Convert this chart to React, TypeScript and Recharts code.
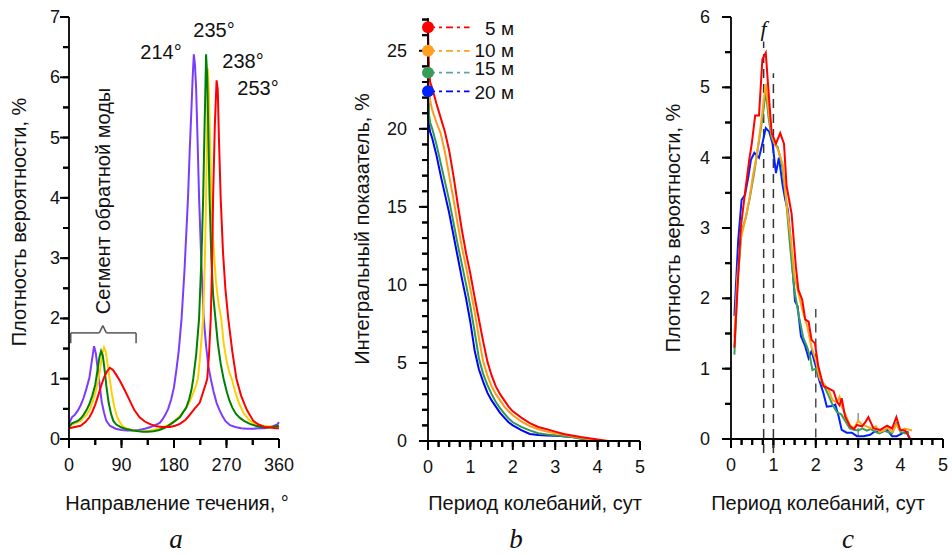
import React from 'react'
import { LineChart, Line, XAxis, YAxis, ReferenceLine, ReferenceDot } from 'recharts'

const FONT = "'Liberation Sans', Arial, sans-serif"

// panel a: direction of current, deg -> probability density, %
const dir214 = [[0,0.25],[5,0.36],[10,0.4],[15,0.47],[20,0.56],[25,0.68],[30,0.84],[35,1.02],[40,1.35],[43,1.54],[46,1.42],[50,1.1],[53,0.86],[56,0.62],[60,0.44],[64,0.3],[70,0.22],[80,0.17],[90,0.15],[100,0.14],[110,0.14],[120,0.15],[130,0.17],[140,0.2],[150,0.24],[156,0.27],[160,0.32],[165,0.4],[170,0.5],[175,0.65],[180,0.86],[184,1.14],[188,1.45],[193,2.0],[198,2.8],[201,3.4],[204,4.0],[207,4.8],[210,5.5],[212,6.0],[214,6.38],[216,6.2],[218,5.8],[220,5.1],[223,4.0],[227,2.9],[231,2.0],[235,1.55],[239,1.2],[243,1.0],[248,0.78],[253,0.6],[258,0.48],[263,0.38],[268,0.3],[276,0.23],[285,0.2],[295,0.18],[305,0.17],[315,0.17],[325,0.18],[335,0.18],[345,0.2],[352,0.22],[357,0.24],[360,0.28]]
const dir235 = [[0,0.2],[5,0.26],[10,0.28],[15,0.3],[20,0.34],[25,0.4],[30,0.48],[35,0.58],[40,0.72],[45,0.9],[49,1.15],[52,1.35],[55,1.46],[58,1.38],[61,1.15],[64,0.88],[68,0.6],[72,0.42],[76,0.3],[81,0.24],[90,0.19],[100,0.16],[110,0.14],[120,0.13],[127,0.12],[135,0.12],[145,0.13],[155,0.15],[165,0.19],[175,0.25],[182,0.3],[190,0.36],[196,0.45],[201,0.52],[206,0.66],[210,0.82],[213,1.0],[218,1.4],[223,2.0],[227,3.0],[230,4.0],[232,5.0],[234,5.9],[235,6.38],[237,6.0],[239,5.0],[241,4.0],[244,3.0],[247,2.4],[251,2.0],[255,1.6],[260,1.25],[265,1.0],[270,0.8],[275,0.64],[280,0.52],[286,0.42],[293,0.35],[300,0.3],[310,0.25],[320,0.22],[330,0.2],[340,0.19],[350,0.2],[360,0.22]]
const dir238 = [[0,0.2],[5,0.24],[10,0.26],[15,0.28],[20,0.3],[25,0.35],[30,0.4],[35,0.48],[40,0.6],[45,0.76],[50,0.96],[54,1.2],[57,1.4],[60,1.52],[63,1.45],[66,1.25],[70,0.98],[74,0.72],[78,0.52],[82,0.38],[87,0.28],[93,0.2],[100,0.17],[110,0.14],[120,0.13],[130,0.13],[140,0.14],[150,0.16],[160,0.19],[170,0.23],[180,0.29],[190,0.38],[200,0.5],[207,0.62],[213,0.76],[218,0.9],[221,1.0],[225,1.4],[230,2.0],[233,3.0],[235,4.0],[237,5.3],[238,6.15],[240,5.7],[242,4.8],[244,4.0],[247,3.3],[252,2.6],[257,2.2],[261,2.0],[265,1.6],[270,1.3],[275,1.1],[279,1.0],[285,0.78],[292,0.58],[300,0.42],[310,0.3],[320,0.25],[330,0.22],[340,0.21],[350,0.2],[360,0.2]]
const dir253 = [[0,0.18],[10,0.2],[20,0.22],[28,0.28],[35,0.36],[40,0.45],[45,0.57],[50,0.72],[55,0.88],[60,1.02],[65,1.12],[70,1.18],[75,1.15],[80,1.08],[87,0.97],[95,0.82],[104,0.64],[112,0.48],[121,0.36],[130,0.29],[138,0.25],[150,0.21],[160,0.2],[173,0.2],[182,0.22],[190,0.25],[200,0.32],[207,0.4],[215,0.5],[224,0.6],[230,0.78],[234,0.9],[237,1.0],[240,1.4],[243,2.0],[245,2.8],[247,4.0],[250,5.2],[253,5.95],[255,5.8],[257,5.0],[260,4.0],[264,3.1],[268,2.5],[273,2.0],[280,1.45],[287,1.0],[295,0.72],[305,0.48],[316,0.3],[325,0.24],[335,0.2],[345,0.19],[355,0.18],[360,0.18]]

// panel b: period, days -> integral index, %
const cum5 = [[0,26.5],[0.02,24],[0.05,23],[0.1,22.6],[0.2,21.6],[0.3,20.7],[0.4,19.8],[0.5,18.6],[0.6,17.0],[0.7,15.2],[0.8,13.5],[0.9,12.0],[1.0,10.7],[1.1,9.2],[1.2,7.8],[1.3,6.4],[1.4,5.1],[1.5,4.2],[1.6,3.5],[1.7,3.0],[1.8,2.6],[1.9,2.2],[2.0,1.9],[2.2,1.5],[2.4,1.15],[2.6,0.9],[2.8,0.75],[3.0,0.6],[3.2,0.45],[3.4,0.35],[3.6,0.25],[3.8,0.18],[4.0,0.1],[4.25,0]]
const cum10 = [[0,25],[0.02,22.5],[0.05,21.8],[0.1,21.2],[0.2,20.4],[0.3,19.7],[0.4,18.5],[0.5,17.0],[0.6,15.5],[0.7,13.9],[0.8,12.4],[0.9,11.1],[1.0,9.7],[1.1,8.3],[1.2,6.6],[1.3,5.1],[1.4,4.2],[1.5,3.5],[1.6,3.0],[1.7,2.6],[1.8,2.2],[1.9,1.9],[2.0,1.65],[2.2,1.25],[2.4,0.95],[2.6,0.75],[2.8,0.6],[3.0,0.5],[3.2,0.4],[3.4,0.3],[3.6,0.2],[3.8,0.12],[4.0,0.05],[4.1,0]]
const cum15 = [[0,23.6],[0.02,21],[0.05,20.4],[0.1,20.0],[0.2,19.0],[0.3,17.8],[0.4,16.6],[0.5,15.4],[0.6,14.0],[0.7,12.6],[0.8,11.3],[0.9,10.0],[1.0,8.6],[1.1,7.0],[1.2,5.3],[1.3,4.3],[1.4,3.6],[1.5,3.0],[1.6,2.5],[1.7,2.1],[1.8,1.75],[1.9,1.45],[2.0,1.2],[2.2,0.9],[2.4,0.68],[2.6,0.5],[2.8,0.42],[3.0,0.36],[3.2,0.3],[3.4,0.25],[3.6,0.15],[3.8,0.08],[4.0,0]]
const cum20 = [[0,22.4],[0.02,20.3],[0.05,19.8],[0.1,19.4],[0.2,18.3],[0.3,17.0],[0.4,15.8],[0.5,14.6],[0.6,13.2],[0.7,11.8],[0.8,10.4],[0.9,9.1],[1.0,7.6],[1.1,5.8],[1.2,4.6],[1.3,3.8],[1.4,3.1],[1.5,2.6],[1.6,2.2],[1.7,1.8],[1.8,1.5],[1.9,1.2],[2.0,1.0],[2.2,0.7],[2.4,0.45],[2.6,0.38],[2.8,0.35],[3.0,0.33],[3.2,0.3],[3.4,0.25],[3.6,0.18],[3.8,0.08],[3.9,0]]

// panel c: period, days -> probability density, %
const pdf5 = [[0.08,1.3],[0.15,2.1],[0.23,3.0],[0.33,3.5],[0.43,3.97],[0.49,4.2],[0.57,4.6],[0.66,4.6],[0.74,5.4],[0.82,5.49],[0.9,4.82],[0.96,4.35],[1.06,4.2],[1.16,4.35],[1.25,4.2],[1.31,3.6],[1.43,3.2],[1.53,2.45],[1.59,2.12],[1.68,1.98],[1.75,1.7],[1.83,1.67],[1.9,1.41],[1.98,1.36],[2.06,1.03],[2.18,0.75],[2.3,0.72],[2.42,0.68],[2.5,0.53],[2.56,0.48],[2.61,0.58],[2.69,0.32],[2.81,0.18],[2.9,0.14],[2.97,0.2],[3.09,0.18],[3.17,0.24],[3.24,0.31],[3.36,0.15],[3.52,0.13],[3.68,0.19],[3.8,0.15],[3.9,0.31],[3.99,0.13],[4.11,0.12],[4.23,0]]
const pdf10 = [[0.08,1.45],[0.15,2.3],[0.23,2.85],[0.33,3.1],[0.43,3.4],[0.52,3.75],[0.6,4.0],[0.68,4.35],[0.75,4.7],[0.82,5.05],[0.88,4.7],[0.95,4.35],[1.03,4.2],[1.12,4.1],[1.22,3.9],[1.3,3.4],[1.4,2.9],[1.5,2.3],[1.6,2.05],[1.7,1.8],[1.8,1.6],[1.9,1.3],[2.0,1.12],[2.1,0.85],[2.2,0.78],[2.3,0.7],[2.4,0.55],[2.5,0.52],[2.56,0.6],[2.62,0.45],[2.7,0.35],[2.8,0.2],[2.9,0.15],[3.0,0.26],[3.1,0.2],[3.2,0.18],[3.3,0.15],[3.42,0.18],[3.5,0.1],[3.6,0.12],[3.7,0.16],[3.8,0.1],[3.9,0.2],[4.0,0.12],[4.1,0.15],[4.27,0.12]]
const pdf15 = [[0.08,1.2],[0.15,2.2],[0.25,2.95],[0.35,3.15],[0.45,3.45],[0.55,3.8],[0.65,4.2],[0.75,4.6],[0.82,4.95],[0.88,4.6],[0.95,4.3],[1.02,4.2],[1.1,4.15],[1.2,3.9],[1.3,3.4],[1.4,2.7],[1.5,2.1],[1.6,1.75],[1.7,1.45],[1.8,1.3],[1.87,1.15],[1.92,0.98],[2.0,1.0],[2.1,0.85],[2.2,0.75],[2.3,0.62],[2.4,0.48],[2.5,0.38],[2.6,0.35],[2.7,0.25],[2.8,0.15],[2.9,0.13],[3.0,0.12],[3.1,0.15],[3.2,0.12],[3.3,0.14],[3.4,0.1],[3.5,0.08],[3.6,0.12],[3.7,0.1],[3.8,0.08],[3.9,0.22],[4.0,0.1],[4.1,0.08],[4.2,0.1]]
const pdf20 = [[0.08,1.75],[0.17,2.83],[0.25,3.4],[0.33,3.47],[0.41,3.73],[0.47,3.97],[0.55,4.07],[0.66,4.0],[0.74,4.2],[0.82,4.42],[0.9,4.37],[0.98,4.2],[1.06,3.78],[1.13,4.0],[1.22,3.6],[1.28,3.4],[1.34,3.26],[1.39,2.93],[1.46,2.36],[1.51,1.96],[1.57,1.89],[1.65,1.46],[1.75,1.32],[1.83,1.15],[1.9,1.25],[2.0,1.03],[2.08,0.84],[2.18,0.65],[2.26,0.46],[2.38,0.47],[2.46,0.49],[2.54,0.32],[2.61,0.13],[2.73,0.09],[2.85,0.09],[2.97,0.04],[3.13,0.04],[3.28,0.06],[3.4,0.11],[3.52,0.09],[3.68,0.13],[3.8,0.04],[3.91,0.04],[4.07,0.09],[4.15,0.1],[4.21,0]]

const depthLabels = ['5 м', '10 м', '15 м', '20 м']
const peakLabels = ['214°', '235°', '238°', '253°']

const dirTicksX = [0, 45, 90, 135, 180, 225, 270, 315, 360]
const dirTicksY = [0, 0.5, 1, 1.5, 2, 2.5, 3, 3.5, 4, 4.5, 5, 5.5, 6, 6.5, 7]
const periodTicks = [0, 0.25, 0.5, 0.75, 1, 1.25, 1.5, 1.75, 2, 2.25, 2.5, 2.75, 3, 3.25, 3.5, 3.75, 4, 4.25, 4.5, 4.75, 5]
const cumTicksY = [0, 1, 2, 3, 4, 5, 6, 7, 8, 9, 10, 11, 12, 13, 14, 15, 16, 17, 18, 19, 20, 21, 22, 23, 24, 25, 26, 27]
const pdfTicksY = [0, 0.5, 1, 1.5, 2, 2.5, 3, 3.5, 4, 4.5, 5, 5.5, 6]

const toPts = (arr: number[][]) => arr.map(([x, v]) => ({ x, v }))
const isMult = (v: number, m: number) => Math.abs(v / m - Math.round(v / m)) < 1e-6

const TICK = 6 // built-in tick line length (minor size); majors lengthened below

// labels; x/y arrive TICK px out from the axis line (tickMargin = 0)
function makeYTick(major: number, gap: number) {
  return function YTick(props: any) {
    const { x, y, payload } = props
    const v = payload.value
    if (!isMult(v, major)) return <g />
    return (
      <text x={x + TICK - gap} y={y} textAnchor="end" dominantBaseline="central" fontSize={18} fontFamily={FONT} fill="#111">
        {v}
      </text>
    )
  }
}

function makeXTick(major: number) {
  return function XTick(props: any) {
    const { x, y, payload } = props
    const v = payload.value
    if (!isMult(v, major)) return <g />
    return (
      <text x={x} y={y - TICK + 26} textAnchor="middle" dominantBaseline="central" fontSize={18} fontFamily={FONT} fill="#111">
        {v}
      </text>
    )
  }
}

// outward tick marks drawn through the scales; pxX / pxY = pixels per data unit of the panel
function tickMarks(key: string, xs: number[], xMajor: number, ys: number[], yMajor: number, pxX: number, pxY: number) {
  const out: any[] = []
  xs.forEach((t) => {
    const len = (isMult(t, xMajor) ? 9 : 6) / pxY
    out.push(
      <ReferenceLine key={key + 'x' + t} segment={[{ x: t, y: 0 }, { x: t, y: -len }]} stroke="#000" strokeWidth={2} ifOverflow="visible" />
    )
  })
  ys.forEach((t) => {
    const len = (isMult(t, yMajor) ? 9 : 6) / pxX
    out.push(
      <ReferenceLine key={key + 'y' + t} segment={[{ x: 0, y: t }, { x: -len, y: t }]} stroke="#000" strokeWidth={2} ifOverflow="visible" />
    )
  })
  return out
}

const dirXTick = makeXTick(90)
const dirYTick = makeYTick(1, 9)
const perXTick = makeXTick(1)
const cumYTick = makeYTick(5, 21)
const pdfYTick = makeYTick(1, 21)

const axisLine = { stroke: '#000', strokeWidth: 1.8 }
const tickLine = { stroke: '#000', strokeWidth: 2 }

function Txt({ x, y, rot, size = 20, italic, serif, children }: any) {
  return (
    <div
      style={{
        position: 'absolute',
        left: x,
        top: y,
        transform: `translate(-50%, -50%)${rot ? ' rotate(-90deg)' : ''}`,
        whiteSpace: 'nowrap',
        fontFamily: serif ? "'Liberation Serif', 'Times New Roman', serif" : FONT,
        fontStyle: italic ? 'italic' : 'normal',
        fontSize: size,
        color: '#111',
        lineHeight: 1,
        pointerEvents: 'none',
      }}
    >
      {children}
    </div>
  )
}

// legend text for panel b, right-aligned inside its chart
function LegendText(props: any) {
  const { viewBox, value, dy } = props
  if (!viewBox) return null
  return (
    <text x={184} y={viewBox.y + (dy || 0)} textAnchor="end" dominantBaseline="central" fontSize={19} fontFamily={FONT} fill="#111">
      {value}
    </text>
  )
}

export default function App() {
  const dirSeries = [
    { data: dir214, color: '#7b3cff' },
    { data: dir238, color: '#ffd000' },
    { data: dir235, color: '#008000' },
    { data: dir253, color: '#ff0000' },
  ]
  const cumSeries = [
    { data: cum20, color: '#0000ff', dot: '#0022ff', leg: '#0000ff' },
    { data: cum15, color: '#2e9a4e', dot: '#3a9a5a', leg: '#5fa3a3' },
    { data: cum10, color: '#ff9a1a', dot: '#ffa020', leg: '#ffa020' },
    { data: cum5, color: '#ff0000', dot: '#ff0000', leg: '#ff0000' },
  ]
  const pdfSeries = [
    { data: pdf20, color: '#0022ff' },
    { data: pdf15, color: '#36a05a' },
    { data: pdf10, color: '#ffa31a' },
    { data: pdf5, color: '#ff0000' },
  ]
  // legend order top-to-bottom: 5, 10, 15, 20 m
  const legendRows = [cumSeries[3], cumSeries[2], cumSeries[1], cumSeries[0]]
  const legendDy = [1, 0, -4, 1]

  return (
    <div style={{ position: 'absolute', left: 0, top: 0, width: 952, height: 555 }}>
      {/* a */}
      <div style={{ position: 'absolute', left: 0, top: 0 }}>
        <LineChart width={300} height={555} margin={{ top: 17, right: 21, bottom: 76, left: 19 }}>
          <XAxis type="number" dataKey="x" domain={[0, 360]} ticks={dirTicksX} interval={0} height={40}
            axisLine={axisLine} tickLine={tickLine} tickSize={TICK} tickMargin={0} tick={dirXTick} />
          <YAxis type="number" domain={[0, 7]} ticks={dirTicksY} interval={0} width={50}
            axisLine={axisLine} tickLine={tickLine} tickSize={TICK} tickMargin={0} tick={dirYTick} />
          {tickMarks('a', dirTicksX, 90, dirTicksY, 1, 210 / 360, 422 / 7)}
          {dirSeries.map((s, i) => (
            <Line key={i} data={toPts(s.data)} dataKey="v" type="linear" stroke={s.color} strokeWidth={2}
              dot={false} isAnimationActive={false} />
          ))}
          {/* bracket over the reverse-mode segment */}
          <ReferenceLine segment={[{ x: 3, y: 1.59 }, { x: 3, y: 1.76 }]} stroke="#555" strokeWidth={1.5} ifOverflow="visible" />
          <ReferenceLine segment={[{ x: 3, y: 1.76 }, { x: 52, y: 1.76 }]} stroke="#555" strokeWidth={1.5} ifOverflow="visible" />
          <ReferenceLine segment={[{ x: 52, y: 1.76 }, { x: 58, y: 1.88 }]} stroke="#555" strokeWidth={1.5} ifOverflow="visible" />
          <ReferenceLine segment={[{ x: 58, y: 1.88 }, { x: 64, y: 1.76 }]} stroke="#555" strokeWidth={1.5} ifOverflow="visible" />
          <ReferenceLine segment={[{ x: 64, y: 1.76 }, { x: 115, y: 1.76 }]} stroke="#555" strokeWidth={1.5} ifOverflow="visible" />
          <ReferenceLine segment={[{ x: 115, y: 1.76 }, { x: 115, y: 1.59 }]} stroke="#555" strokeWidth={1.5} ifOverflow="visible" />
        </LineChart>
      </div>

      {/* b */}
      <div style={{ position: 'absolute', left: 330, top: 0 }}>
        <LineChart width={320} height={555} margin={{ top: 18, right: 10, bottom: 74, left: 38 }}>
          <XAxis type="number" dataKey="x" domain={[0, 5]} ticks={periodTicks} interval={0} height={40}
            axisLine={axisLine} tickLine={tickLine} tickSize={TICK} tickMargin={0} tick={perXTick} />
          <YAxis type="number" domain={[0, 27.1]} ticks={cumTicksY} interval={0} width={60}
            axisLine={axisLine} tickLine={tickLine} tickSize={TICK} tickMargin={0} tick={cumYTick} />
          {tickMarks('b', periodTicks, 1, cumTicksY, 5, 212 / 5, 423 / 27.1)}
          {cumSeries.map((s, i) => (
            <Line key={i} data={toPts(s.data)} dataKey="v" type="linear" stroke={s.color} strokeWidth={2}
              dot={false} isAnimationActive={false} />
          ))}
          {legendRows.map((s, i) => {
            const y0 = s.data[0][1]
            return (
              <ReferenceLine key={'l' + i} segment={[{ x: 0, y: y0 }, { x: 0.98, y: y0 }]} stroke={s.leg} strokeWidth={1.8}
                strokeDasharray="7 4 3 4" ifOverflow="visible"
                label={<LegendText value={depthLabels[i]} dy={legendDy[i]} />} />
            )
          })}
          {legendRows.map((s, i) => (
            <ReferenceDot key={'d' + i} x={0} y={s.data[0][1]} r={6} fill={s.dot} stroke="none" ifOverflow="visible" />
          ))}
        </LineChart>
      </div>

      {/* c */}
      <div style={{ position: 'absolute', left: 650, top: 0 }}>
        <LineChart width={302} height={555} margin={{ top: 17, right: 9, bottom: 76, left: 21 }}>
          <XAxis type="number" dataKey="x" domain={[0, 5]} ticks={periodTicks} interval={0} height={40}
            axisLine={axisLine} tickLine={tickLine} tickSize={TICK} tickMargin={0} tick={perXTick} />
          <YAxis type="number" domain={[0, 6]} ticks={pdfTicksY} interval={0} width={60}
            axisLine={axisLine} tickLine={tickLine} tickSize={TICK} tickMargin={0} tick={pdfYTick} />
          {tickMarks('c', periodTicks, 1, pdfTicksY, 1, 212 / 5, 422 / 6)}
          <ReferenceLine segment={[{ x: 0.77, y: -0.2 }, { x: 0.77, y: 5.65 }]} stroke="#333" strokeWidth={1.5}
            strokeDasharray="9 6" ifOverflow="visible"
            label={{ value: 'f', position: 'top', offset: 6, fontSize: 22, fontStyle: 'italic', fontFamily: "'Liberation Serif', serif", fill: '#111' }} />
          <ReferenceLine segment={[{ x: 1, y: -0.2 }, { x: 1, y: 5.2 }]} stroke="#333" strokeWidth={1.5}
            strokeDasharray="9 6" ifOverflow="visible" />
          <ReferenceLine segment={[{ x: 2, y: 0.02 }, { x: 2, y: 1.85 }]} stroke="#333" strokeWidth={1.3}
            strokeDasharray="9 6" ifOverflow="visible" />
          <ReferenceLine segment={[{ x: 3, y: 0.03 }, { x: 3, y: 0.45 }]} stroke="#888" strokeWidth={1.3}
            strokeDasharray="9 6" ifOverflow="visible" />
          {pdfSeries.map((s, i) => (
            <Line key={i} data={toPts(s.data)} dataKey="v" type="linear" stroke={s.color} strokeWidth={2}
              dot={false} isAnimationActive={false} />
          ))}
        </LineChart>
      </div>

      {/* texts */}
      <Txt x={19} y={222} rot>Плотность вероятности, %</Txt>
      <Txt x={103} y={201} rot>Сегмент обратной моды</Txt>
      <Txt x={161} y={52}>{peakLabels[0]}</Txt>
      <Txt x={214} y={30}>{peakLabels[1]}</Txt>
      <Txt x={243} y={61}>{peakLabels[2]}</Txt>
      <Txt x={258} y={88}>{peakLabels[3]}</Txt>
      <Txt x={362} y={229} rot>Интегральный показатель, %</Txt>
      <Txt x={673} y={228} rot>Плотность вероятности, %</Txt>

      <Txt x={177} y={503}>Направление течения, °</Txt>
      <Txt x={535} y={503}>Период колебаний, сут</Txt>
      <Txt x={818} y={503}>Период колебаний, сут</Txt>

      <Txt x={176} y={539} size={27} italic serif>a</Txt>
      <Txt x={516} y={539} size={27} italic serif>b</Txt>
      <Txt x={848} y={539} size={27} italic serif>c</Txt>
    </div>
  )
}
